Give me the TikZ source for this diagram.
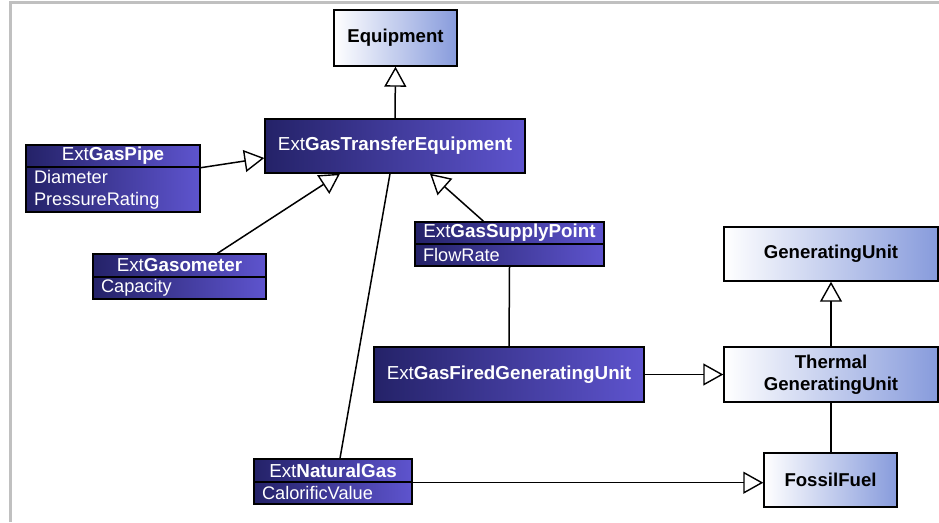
\documentclass[tikz,border=0pt]{standalone}
\usepackage{fontspec}
\setmainfont{Liberation Sans}
\usetikzlibrary{arrows.meta}
\definecolor{dkL}{RGB}{36,34,104}
\definecolor{dkR}{RGB}{94,84,206}
\definecolor{ltR}{RGB}{135,155,220}
\definecolor{framegray}{RGB}{192,192,192}
\begin{document}
\begin{tikzpicture}[x=1pt,y=-1pt,
  box/.style={draw=black,line width=1.4pt,inner sep=0pt,anchor=center},
  light/.style={box,left color=white,right color=ltR,font=\bfseries\fontsize{18.6}{22}\selectfont,align=center},
  dark/.style={box,left color=dkL,right color=dkR,text=white,font=\fontsize{18.8}{22}\selectfont},
  attr/.style={dark,align=left,inner xsep=8pt,font=\fontsize{18.2}{22}\selectfont},
  gen/.style={line width=1.5pt,-{Triangle[open,length=20pt,width=22pt,line width=1.4pt]}},
  assoc/.style={line width=1.5pt}]
\path[use as bounding box] (0,0) rectangle (939,522);
\draw[framegray,line width=2.5pt] (10.5,522) -- (10.5,2.5) -- (939,2.5);

\node[light,minimum width=123pt,minimum height=56pt] (equip) at (395.5,38) {Equipment};
\node[dark,minimum width=260pt,minimum height=54pt] (gte) at (395,146) {Ext\textbf{GasTransferEquipment}};
\node[dark,minimum width=174pt,minimum height=22pt] (pipe) at (113,156) {Ext\textbf{GasPipe}};
\node[attr,text width=158pt,minimum height=45pt] (pipeA) at (113,189.5) {Diameter\\PressureRating};
\node[dark,minimum width=173pt,minimum height=23pt] (gaso) at (179.5,265.5) {Ext\textbf{Gasometer}};
\node[attr,text width=157pt,minimum height=22pt] (gasoA) at (179.5,288) {Capacity};
\node[dark,minimum width=189pt,minimum height=22pt] (supply) at (509.5,233) {Ext\textbf{GasSupplyPoint}};
\node[attr,text width=173pt,minimum height=22pt] (supplyA) at (509.5,255) {FlowRate};
\node[dark,minimum width=270pt,minimum height=55pt] (gfgu) at (509,374.5) {Ext\textbf{GasFiredGeneratingUnit}};
\node[light,minimum width=214pt,minimum height=54pt] (genunit) at (831,254) {GeneratingUnit};
\node[light,minimum width=214pt,minimum height=55pt] (thermal) at (831,374.5) {Thermal\\GeneratingUnit};
\node[light,minimum width=133pt,minimum height=54pt] (fossil) at (830.5,480) {FossilFuel};
\node[dark,minimum width=158pt,minimum height=23pt] (nat) at (333,470.5) {Ext\textbf{NaturalGas}};
\node[attr,text width=142pt,minimum height=22pt] (natA) at (333,493) {CalorificValue};

\draw[gen] (gte.north) -- (equip.south);
\draw[gen] (pipe.south east) -- ([yshift=-12pt]gte.west);
\draw[gen] ([xshift=38pt]gaso.north) -- ([xshift=-55pt]gte.south);
\draw[gen] ([xshift=-26pt]supply.north) -- ([xshift=35pt]gte.south);
\draw[assoc] (supplyA.south) -- (gfgu.north);
\draw[assoc] ([xshift=7pt]nat.north) -- ([xshift=-5pt]gte.south);
\draw[gen] (gfgu.east) -- (thermal.west);
\draw[gen] (thermal.north) -- (genunit.south);
\draw[assoc] (thermal.south) -- (thermal.south |- fossil.north);
\draw[gen] (nat.south east) -- (nat.south east -| fossil.west);
\end{tikzpicture}
\end{document}
